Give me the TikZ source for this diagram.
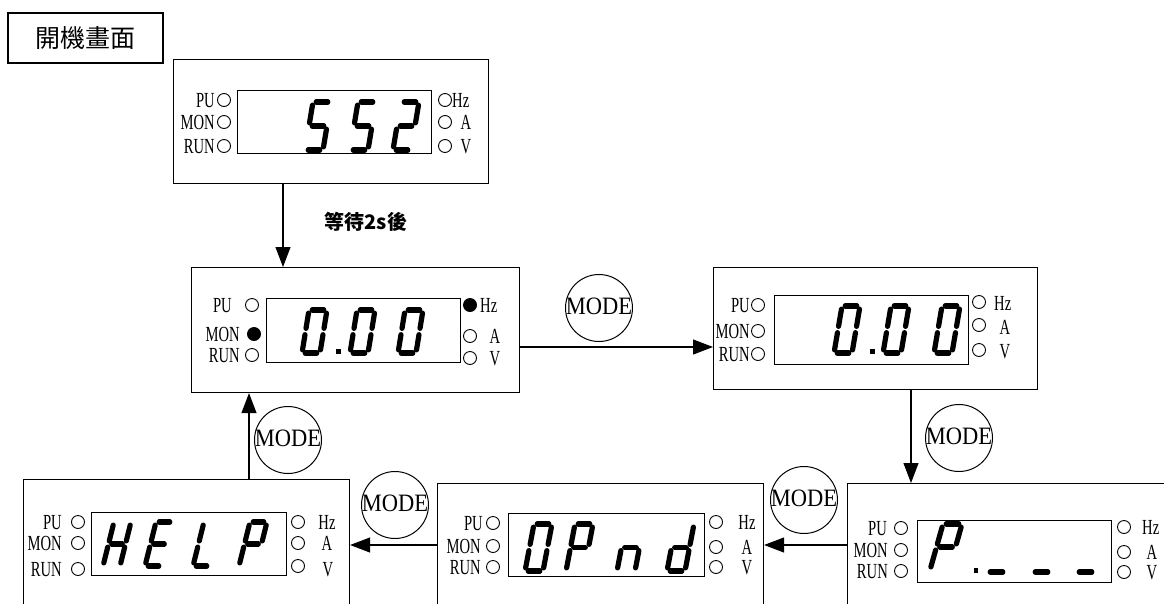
\documentclass[tikz,border=0pt]{standalone}
\usepackage{fontspec}
\setmainfont{Liberation Serif}
\newfontfamily\cjk{Noto Sans CJK TC}
\newfontfamily\lblfont[FakeStretch=0.68]{Liberation Serif}
\newfontfamily\modefont[FakeStretch=0.9]{Liberation Serif}
\usetikzlibrary{arrows.meta}
\tikzset{
  panel/.style={draw, line width=1.1pt, rectangle, inner sep=0pt, anchor=north west},
  lcd/.style={draw, line width=1.1pt, rectangle, inner sep=0pt, anchor=north west},
  lbl/.style={font=\lblfont\fontsize{21.5}{24}\selectfont, inner sep=0pt, text height=14.2pt, text depth=0pt},
  led/.style={circle, draw, line width=0.9pt, minimum size=13pt, inner sep=0pt},
  ledon/.style={led, fill=black},
  arr/.style={line width=1.1pt, -{Triangle[length=20pt,width=15pt]}},
  modec/.style={circle, draw, line width=1pt, minimum size=67pt, inner sep=0pt},
  modet/.style={font=\modefont\fontsize{25}{25}\selectfont, inner sep=0pt, text height=16.5pt, text depth=0pt},
  seg/.style={line width=5.2pt, line cap=round, shorten <=3.2pt, shorten >=3.2pt},
}
\newcommand\dgt[4]{%
  \begin{scope}[shift={(#1,#2)}]
    \coordinate (a1) at (\dsk,-#3); \coordinate (a2) at (\dsk+\dw,-#3);
    \coordinate (b1) at (\dsk+\dw,-#3); \coordinate (b2) at (\dsk/2+\dw,-#3/2);
    \coordinate (c1) at (\dsk/2+\dw,-#3/2); \coordinate (c2) at (\dw,0);
    \coordinate (d1) at (0,0); \coordinate (d2) at (\dw,0);
    \coordinate (e1) at (\dsk/2,-#3/2); \coordinate (e2) at (0,0);
    \coordinate (f1) at (\dsk,-#3); \coordinate (f2) at (\dsk/2,-#3/2);
    \coordinate (g1) at (\dsk/2,-#3/2); \coordinate (g2) at (\dsk/2+\dw,-#3/2);
    \foreach \q in {#4}{\draw[seg] (\q1) -- (\q2);}
  \end{scope}}
\begin{document}
\begin{tikzpicture}[x=1pt,y=-1pt]
\path[use as bounding box] (0,0) rectangle (1164,603);
\clip (0,0) rectangle (1164,603);

% title
\node[draw, line width=1.1pt, minimum width=155pt, minimum height=50pt, inner sep=0pt,
      font=\cjk\fontsize{25}{25}\selectfont] (title) at (85.5,38) {開機畫面};

% ---------- panels ----------
\node[panel, minimum width=315pt, minimum height=124pt] (top) at (173,59) {};
\node[panel, minimum width=328pt, minimum height=125pt] (mid) at (191,267) {};
\node[panel, minimum width=324pt, minimum height=122pt] (rgt) at (713,267) {};
\node[panel, minimum width=326pt, minimum height=160pt] (bl) at (23,479) {};
\node[panel, minimum width=326pt, minimum height=160pt] (bm) at (437,483) {};
\node[panel, minimum width=360pt, minimum height=160pt] (br) at (847,483) {};

% ---------- LCD windows ----------
\node[lcd, minimum width=194pt, minimum height=63pt] (topL) at (237,90) {};
\node[lcd, minimum width=194pt, minimum height=64pt] (midL) at (266,298) {};
\node[lcd, minimum width=194pt, minimum height=69pt] (rgtL) at (774,295) {};
\node[lcd, minimum width=195pt, minimum height=63pt] (blL) at (91,512) {};
\node[lcd, minimum width=196pt, minimum height=63pt] (bmL) at (508,513) {};
\node[lcd, minimum width=194pt, minimum height=62pt] (brL) at (917,520) {};

% ---------- top panel labels ----------
\node[lbl, anchor=east] (tPU) at (215,100) {PU};
\node[lbl, anchor=east] (tMON) at (215,122) {MON};
\node[lbl, anchor=east] (tRUN) at (215,146) {RUN};
\node[led] (tPUc) at (224,100) {};
\node[led] (tMONc) at (224,122) {};
\node[led] (tRUNc) at (224,146) {};
\node[led] (tHzc) at (445,100) {};
\node[led] (tAc) at (445,122) {};
\node[led] (tVc) at (445,146) {};
\node[lbl, anchor=west] (tHz) at (452,100) {Hz};
\node[lbl] (tA) at (466,122) {A};
\node[lbl] (tV) at (466,146) {V};

% ---------- middle panel labels ----------
\node[lbl, anchor=east] (mPU) at (232,305) {PU};
\node[lbl, anchor=east] (mMON) at (240,334) {MON};
\node[lbl, anchor=east] (mRUN) at (240,355) {RUN};
\node[led] (mPUc) at (252,305) {};
\node[ledon] (mMONc) at (254,334) {};
\node[led] (mRUNc) at (252,355) {};
\node[ledon] (mHzc) at (470,305) {};
\node[led] (mAc) at (470,336) {};
\node[led] (mVc) at (470,358) {};
\node[lbl, anchor=west] (mHz) at (480,305) {Hz};
\node[lbl] (mA) at (495,336) {A};
\node[lbl] (mV) at (495,358) {V};

% ---------- right panel labels ----------
\node[lbl, anchor=east] (rPU) at (750,305) {PU};
\node[lbl, anchor=east] (rMON) at (750,331) {MON};
\node[lbl, anchor=east] (rRUN) at (750,354) {RUN};
\node[led] (rPUc) at (758,305) {};
\node[led] (rMONc) at (758,331) {};
\node[led] (rRUNc) at (758,354) {};
\node[led] (rHzc) at (979,302) {};
\node[led] (rAc) at (979,325) {};
\node[led] (rVc) at (979,350) {};
\node[lbl, anchor=west] (rHz) at (994,303) {Hz};
\node[lbl] (rA) at (1005,327) {A};
\node[lbl] (rV) at (1005,351) {V};

% ---------- bottom-left panel labels ----------
\node[lbl, anchor=east] (lPU) at (62,522) {PU};
\node[lbl, anchor=east] (lMON) at (62,543) {MON};
\node[lbl, anchor=east] (lRUN) at (62,569) {RUN};
\node[led] (lPUc) at (78,522) {};
\node[led] (lMONc) at (78,543) {};
\node[led] (lRUNc) at (78,569) {};
\node[led] (lHzc) at (298,522) {};
\node[led] (lAc) at (298,543) {};
\node[led] (lVc) at (298,566) {};
\node[lbl] (lHz) at (327,522) {Hz};
\node[lbl] (lA) at (327,543) {A};
\node[lbl] (lV) at (328,569) {V};

% ---------- bottom-middle panel labels ----------
\node[lbl, anchor=east] (bPU) at (483,523) {PU};
\node[lbl, anchor=east] (bMON) at (481,546) {MON};
\node[lbl, anchor=east] (bRUN) at (481,567) {RUN};
\node[led] (bPUc) at (493,523) {};
\node[led] (bMONc) at (493,546) {};
\node[led] (bRUNc) at (493,567) {};
\node[led] (bHzc) at (716,522) {};
\node[led] (bAc) at (716,547) {};
\node[led] (bVc) at (716,567) {};
\node[lbl] (bHz) at (747,522) {Hz};
\node[lbl] (bA) at (747,547) {A};
\node[lbl] (bV) at (747,567) {V};

% ---------- bottom-right panel labels ----------
\node[lbl, anchor=east] (sPU) at (887,528) {PU};
\node[lbl, anchor=east] (sMON) at (888,550) {MON};
\node[lbl, anchor=east] (sRUN) at (888,571) {RUN};
\node[led] (sPUc) at (901,528) {};
\node[led] (sMONc) at (901,550) {};
\node[led] (sRUNc) at (901,571) {};
\node[led] (sHzc) at (1124,527) {};
\node[led] (sAc) at (1124,552) {};
\node[led] (sVc) at (1124,572) {};
\node[lbl, anchor=west] (sHz) at (1142,527) {Hz};
\node[lbl] (sA) at (1152,552) {A};
\node[lbl] (sV) at (1152,572) {V};

% ---------- seven-segment digits ----------
% top: 552
\def\dw{18}\def\dsk{8}
\dgt{305}{150}{48}{a,f,g,c,d}
\dgt{350}{150}{48}{a,f,g,c,d}
\dgt{393}{150}{48}{a,b,g,e,d}
% middle: 0.00
\def\dw{18}\def\dsk{7}
\dgt{302}{353}{43}{a,b,c,d,e,f}
\fill (336,349) rectangle (341,354);
\dgt{350}{353}{43}{a,b,c,d,e,f}
\dgt{398}{353}{43}{a,b,c,d,e,f}
% right: 0.00
\def\dw{18}\def\dsk{8}
\dgt{834}{353}{47}{a,b,c,d,e,f}
\fill (870,349) rectangle (875,354);
\dgt{883}{353}{47}{a,b,c,d,e,f}
\dgt{934}{353}{47}{a,b,c,d,e,f}
% bottom-left: HELP
\def\dw{17}\def\dsk{11}
\dgt{103}{566}{44}{b,c,e,f,g}
\dgt{145}{566}{44}{a,d,e,f,g}
\dgt{193}{566}{44}{d,e,f}
\dgt{239}{566}{44}{a,b,e,f,g}
% bottom-middle: 0Pnd
\def\dw{18}\def\dsk{9}
\dgt{525}{571}{47}{a,b,c,d,e,f}
\dgt{566}{571}{47}{a,b,e,f,g}
\dgt{617}{571}{47}{c,e,g}
\dgt{667}{571}{47}{b,c,d,e,g}
% bottom-right: P.___
\def\dw{19}\def\dsk{13}
\dgt{930}{570}{46}{a,b,e,f,g}
\fill (974,568) rectangle (978,573);
\dgt{987}{572}{46}{d}
\dgt{1032}{572}{46}{d}
\dgt{1076}{572}{46}{d}

% ---------- MODE buttons ----------
\node[modec] (m1) at (599,308) {};
\node[modet] (m1t) at (599,306) {MODE};
\node[modec] (m2) at (959,438) {};
\node[modet] (m2t) at (959,436) {MODE};
\node[modec] (m3) at (288,440) {};
\node[modet] (m3t) at (288,438) {MODE};
\node[modec] (m4) at (395,505) {};
\node[modet] (m4t) at (395,503) {MODE};
\node[modec] (m5) at (804,500) {};
\node[modet] (m5t) at (804,498) {MODE};

% wait label
\node[font=\cjk\bfseries\fontsize{20}{20}\selectfont, inner sep=0pt] (wait) at (366,222) {等待2s後};

% ---------- connectors ----------
\coordinate (xA) at (283,0);
\coordinate (yB) at (0,347);
\coordinate (xC) at (911,0);
\coordinate (yD) at (0,545);
\coordinate (xE) at (249,0);
\draw[arr] (top.south -| xA) -- (mid.north -| xA);
\draw[arr] (mid.east |- yB) -- (rgt.west |- yB);
\draw[arr] (rgt.south -| xC) -- (br.north -| xC);
\draw[arr] (br.west |- yD) -- (bm.east |- yD);
\draw[arr] (bm.west |- yD) -- (bl.east |- yD);
\draw[arr] (bl.north -| xE) -- (mid.south -| xE);
\end{tikzpicture}
\end{document}
